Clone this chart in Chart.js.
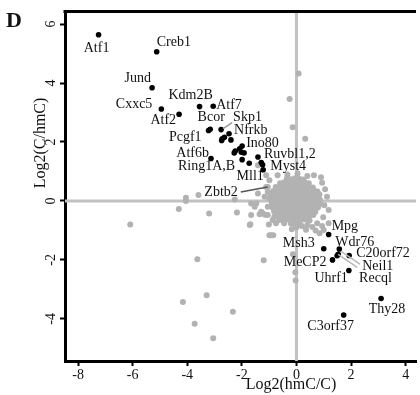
<!DOCTYPE html>
<html>
<head>
<meta charset="utf-8">
<script src="https://cdn.jsdelivr.net/npm/chart.js@4.4.0/dist/chart.umd.min.js"></script>
<style>
  html, body { margin: 0; padding: 0; background: #fff; }
  #wrap { width: 420px; height: 395px; position: relative; }
</style>
</head>
<body>
<div id="wrap"><canvas id="chart"></canvas></div>
<script>
// tick values for both axes
const xTicks = [-8, -6, -4, -2, 0, 2, 4];
const yTicks = [-4, -2, 0, 2, 4, 6];

// labelled hits (black dots), one entry per dot
const hitGene = ['Atf1', 'Creb1', 'Jund', 'Cxxc5', 'Atf2', 'Kdm2B', 'Atf7', 'Bcor', 'Pcgf1', 'Skp1',
  'Nfrkb', 'Nfrkb', 'Nfrkb', 'Nfrkb', 'Nfrkb',
  'Ino80', 'Ino80', 'Ino80', 'Ino80', 'Ino80', 'Ino80',
  'Atf6b', 'Ring1A,B', 'Mll1', 'Ruvbl1,2', 'Myst4', 'Myst4', 'Myst4',
  'Mpg', 'Msh3', 'Wdr76', 'Neil1', 'Recql', 'C20orf72', 'MeCP2', 'Uhrf1', 'Thy28', 'C3orf37'];
const hitX = [-7.25, -5.12, -5.29, -4.95, -4.30, -3.55, -3.05, -3.16, -3.22, -2.76,
  -2.47, -2.72, -2.74, -2.64, -2.40,
  -1.99, -2.08, -2.24, -2.28, -2.02, -1.92,
  -3.13, -1.99, -1.73, -1.41, -1.29, -1.24, -1.22,
  1.18, 1.00, 1.57, 1.53, 1.49, 1.93, 1.32, 1.92, 3.10, 1.73];
const hitY = [5.64, 5.06, 3.84, 3.12, 2.94, 3.20, 3.21, 2.43, 2.39, 2.42,
  2.28, 2.11, 2.05, 2.16, 2.07,
  1.86, 1.77, 1.69, 1.63, 1.65, 1.63,
  1.44, 1.40, 1.28, 1.49, 1.30, 1.23, 1.06,
  -1.14, -1.62, -1.63, -1.81, -1.86, -1.85, -2.00, -2.36, -3.31, -3.87];

// Zbtb2 is labelled but sits in the grey cloud
const zbtb2 = [-1.05, 0.47];

// all other proteins (grey)
const otherPoints = [
  [-0.35,0.76],[-0.2,0.74],[-0.05,0.77],[0.1,0.75],[0.25,0.73],
  [-0.6,0.6],[-0.45,0.63],[-0.3,0.61],[-0.15,0.62],[0,0.64],[0.15,0.61],[0.3,0.63],[0.45,0.6],
  [-0.76,0.47],[-0.6,0.49],[-0.45,0.48],[-0.3,0.47],[-0.15,0.49],[0,0.48],[0.15,0.47],[0.3,0.49],[0.45,0.48],[0.6,0.46],
  [-0.86,0.33],[-0.7,0.35],[-0.55,0.34],[-0.4,0.33],[-0.25,0.35],[-0.1,0.34],[0.05,0.33],[0.2,0.35],[0.35,0.34],[0.5,0.33],[0.65,0.35],[0.77,0.32],
  [-0.91,0.21],[-0.75,0.19],[-0.6,0.2],[-0.45,0.21],[-0.3,0.19],[-0.15,0.2],[0,0.21],[0.15,0.19],[0.3,0.2],[0.45,0.21],[0.6,0.19],[0.75,0.2],[0.84,0.22],
  [-0.94,0.05],[-0.78,0.07],[-0.63,0.06],[-0.48,0.05],[-0.33,0.07],[-0.18,0.06],[-0.03,0.05],[0.12,0.07],[0.27,0.06],[0.42,0.05],[0.57,0.07],[0.72,0.06],[0.86,0.04],
  [-0.9,-0.07],[-0.75,-0.09],[-0.6,-0.08],[-0.45,-0.07],[-0.3,-0.09],[-0.15,-0.08],[0,-0.07],[0.15,-0.09],[0.3,-0.08],[0.45,-0.07],[0.6,-0.09],[0.75,-0.08],[0.87,-0.1],
  [-0.87,-0.23],[-0.72,-0.21],[-0.57,-0.22],[-0.42,-0.23],[-0.27,-0.21],[-0.12,-0.22],[0.03,-0.23],[0.18,-0.21],[0.33,-0.22],[0.48,-0.23],[0.63,-0.21],[0.79,-0.22],
  [-0.82,-0.35],[-0.67,-0.37],[-0.52,-0.36],[-0.37,-0.35],[-0.22,-0.37],[-0.07,-0.36],[0.08,-0.35],[0.23,-0.37],[0.38,-0.36],[0.53,-0.35],[0.69,-0.37],
  [-0.72,-0.49],[-0.57,-0.51],[-0.42,-0.5],[-0.27,-0.49],[-0.12,-0.51],[0.03,-0.5],[0.18,-0.49],[0.33,-0.51],[0.48,-0.5],[0.62,-0.48],
  [-0.55,-0.63],[-0.4,-0.65],[-0.25,-0.64],[-0.1,-0.63],[0.05,-0.65],[0.2,-0.64],[0.35,-0.63],[0.48,-0.66],
  [-0.2,-0.77],[-0.05,-0.79],[0.1,-0.78],
  // ragged edge of the cloud
  [-1.11,0.87],[-0.99,0.70],[-0.69,0.87],[-0.33,0.90],[0.04,0.93],[0.40,0.85],[0.64,0.87],[0.90,0.80],[0.94,0.62],
  [1.12,0.14],[1.05,0.40],[1.18,-0.31],[1.02,-0.15],[0.98,-0.55],
  [-1.11,0.47],[-1.05,0.30],[-1.0,0.1],[-1.05,-0.2],[-1.23,-0.43],[-1.05,-0.48],[-0.87,-0.65],[-0.81,-0.54],
  [-0.63,-0.65],[-1.01,-0.80],[-0.75,-0.76],[-0.45,-0.76],[-0.93,-1.16],[-0.85,-1.16],[-0.17,-0.96],[0.0,-0.9],[0.2,-0.85],
  [0.40,-0.82],[0.58,-0.88],[0.76,-0.76],[0.94,-0.85],[1.0,-0.99],[1.18,-0.76],[0.7,-1.0],[0.85,-1.1],[0.35,-0.98],
  [-1.66,-0.09],[-1.53,-0.20],[-1.17,0.14],[-1.41,0.25],[-1.47,-0.09],[-1.29,-0.37],[-1.66,-0.48],[-1.71,-0.82],
  [-0.99,-1.16],[-1.35,-0.45],[-1.15,-0.47],[-1.41,1.21],
  [-0.13,-1.81],[-0.04,-2.42],[-0.03,-2.70],
  // scattered
  [-6.09,-0.80],[-4.31,-0.27],[-4.05,0.11],[-4.05,0.0],[-3.59,0.20],[-3.20,-0.43],[-2.18,-0.39],[-2.26,0.05],
  [-1.69,-0.79],[-3.63,-1.98],[-1.20,-2.01],[-3.29,-3.20],[-4.16,-3.43],[-2.33,-3.76],[-3.73,-4.17],[-3.05,-4.66],
  [0.08,4.32],[-0.25,3.46],[-0.14,2.50],[0.32,2.11]
];

// label placement: [align, dx, dy] in pixels from the dot
const labelLayout = {
  'Atf1': ['center', -2, 14], 'Creb1': ['left', 0, -9], 'Jund': ['right', -1, -9],
  'Cxxc5': ['right', -9, -5], 'Atf2': ['right', -3, 6], 'Kdm2B': ['center', -9, -11],
  'Atf7': ['left', 3, -1], 'Bcor': ['center', 1, -12], 'Pcgf1': ['right', -7, 7],
  'Skp1': ['left', 12, -12], 'Nfrkb': ['left', 5, -3], 'Ino80': ['left', 4, -3],
  'Atf6b': ['right', -2, -5], 'Ring1A,B': ['right', -7, 7], 'Mll1': ['center', 1, 13],
  'Ruvbl1,2': ['left', 6, -3], 'Myst4': ['left', 9, 4], 'Zbtb2': ['right', -30, 5],
  'Mpg': ['left', 3, -8], 'Msh3': ['right', -9, -5], 'Wdr76': ['left', -4, -7],
  'C20orf72': ['left', 7, -2], 'MeCP2': ['right', -6, 2], 'Neil1': ['left', 24, 12],
  'Uhrf1': ['right', -1, 8], 'Recql': ['left', 22, 23], 'Thy28': ['center', 6, 11],
  'C3orf37': ['center', -13, 11]
};
// leader lines: [gene, x1, y1, x2, y2, colour]
const leaders = [
  ['Skp1', 2, -1, 11, -7, '#9a9a9a'],
  ['Zbtb2', -27, 5, 0, 0, '#555555'],
  ['Neil1', 3, -3, 22, 10, '#b8b8b8'],
  ['Neil1', 0, 0, 19, 13, '#b8b8b8']
];

const SERIF = "'Liberation Serif', 'Times New Roman', serif";
Chart.defaults.font.family = SERIF;
Chart.defaults.color = '#000';

function anchorOf(chart, gene) {
  const xs = chart.scales.x, ys = chart.scales.y;
  let v = gene === 'Zbtb2' ? zbtb2 : null;
  if (!v) {
    const i = hitGene.indexOf(gene);
    v = [hitX[i], hitY[i]];
  }
  return [xs.getPixelForValue(v[0]), ys.getPixelForValue(v[1])];
}

const decorations = {
  id: 'decorations',
  beforeDatasetsDraw(chart) {
    const ctx = chart.ctx, a = chart.chartArea;
    const x0 = chart.scales.x.getPixelForValue(0);
    const y0 = chart.scales.y.getPixelForValue(0);
    ctx.save();
    ctx.strokeStyle = '#c2c2c2';
    ctx.lineWidth = 3;
    ctx.beginPath();
    ctx.moveTo(x0, a.top); ctx.lineTo(x0, a.bottom);
    ctx.moveTo(a.left, y0); ctx.lineTo(a.right, y0);
    ctx.stroke();
    ctx.restore();
  },
  afterDatasetsDraw(chart) {
    const ctx = chart.ctx, a = chart.chartArea;
    ctx.save();
    // top frame line
    ctx.strokeStyle = '#000';
    ctx.lineWidth = 3;
    ctx.beginPath();
    ctx.moveTo(a.left - 1.5, a.top); ctx.lineTo(a.right, a.top);
    ctx.stroke();

    leaders.forEach(([g, x1, y1, x2, y2, col]) => {
      const [px, py] = anchorOf(chart, g);
      ctx.strokeStyle = col;
      ctx.lineWidth = 1.5;
      ctx.beginPath();
      ctx.moveTo(px + x1, py + y1); ctx.lineTo(px + x2, py + y2);
      ctx.stroke();
    });

    ctx.fillStyle = '#111';
    ctx.font = '14px ' + SERIF;
    ctx.textBaseline = 'middle';
    Object.keys(labelLayout).forEach(g => {
      const [align, dx, dy] = labelLayout[g];
      const [px, py] = anchorOf(chart, g);
      ctx.textAlign = align;
      ctx.fillText(g, px + dx, py + dy);
    });

    // axis titles
    ctx.font = '16px ' + SERIF;
    ctx.textAlign = 'center';
    ctx.fillText('Log2(hmC/C)', 291, 385);
    ctx.save();
    ctx.translate(41, 143);
    ctx.rotate(-Math.PI / 2);
    ctx.fillText('Log2(C/hmC)', 0, 0);
    ctx.restore();

    // panel letter
    ctx.font = 'bold 22px ' + SERIF;
    ctx.textAlign = 'left';
    ctx.textBaseline = 'alphabetic';
    ctx.fillText('D', 6, 27);
    ctx.restore();
  }
};

new Chart(document.getElementById('chart'), {
  type: 'scatter',
  data: {
    datasets: [
      {
        label: 'hits',
        data: hitX.map((x, i) => ({ x: x, y: hitY[i] })),
        backgroundColor: '#000',
        borderWidth: 0,
        pointRadius: 2.8
      },
      {
        label: 'other',
        data: otherPoints.map(p => ({ x: p[0], y: p[1] })).concat([{ x: zbtb2[0], y: zbtb2[1] }]),
        backgroundColor: '#b2b2b2',
        borderWidth: 0,
        pointRadius: 3
      }
    ]
  },
  options: {
    responsive: true,
    maintainAspectRatio: false,
    animation: false,
    events: [],
    layout: { padding: { top: 11, right: 0, left: 0, bottom: 0 } },
    plugins: { legend: { display: false }, tooltip: { enabled: false } },
    scales: {
      x: {
        type: 'linear',
        min: -8.48,
        max: 4.38,
        afterBuildTicks: s => { s.ticks = xTicks.map(v => ({ value: v })); },
        afterFit: s => { s.height = 34; },
        border: { display: true, color: '#000', width: 3 },
        grid: { drawOnChartArea: false, drawTicks: true, tickLength: 5, tickColor: '#000', tickWidth: 2 },
        ticks: { padding: 1, font: { size: 14 }, color: '#111', maxRotation: 0 }
      },
      y: {
        type: 'linear',
        min: -5.43,
        max: 6.43,
        afterBuildTicks: s => { s.ticks = yTicks.map(v => ({ value: v })); },
        afterFit: s => { s.width = 65; },
        border: { display: true, color: '#000', width: 3 },
        grid: { drawOnChartArea: false, drawTicks: true, tickLength: 5, tickColor: '#000', tickWidth: 2 },
        ticks: { padding: 3, font: { size: 14 }, color: '#111', minRotation: 90, maxRotation: 90, crossAlign: 'center' }
      }
    }
  },
  plugins: [decorations]
});
</script>
</body>
</html>
